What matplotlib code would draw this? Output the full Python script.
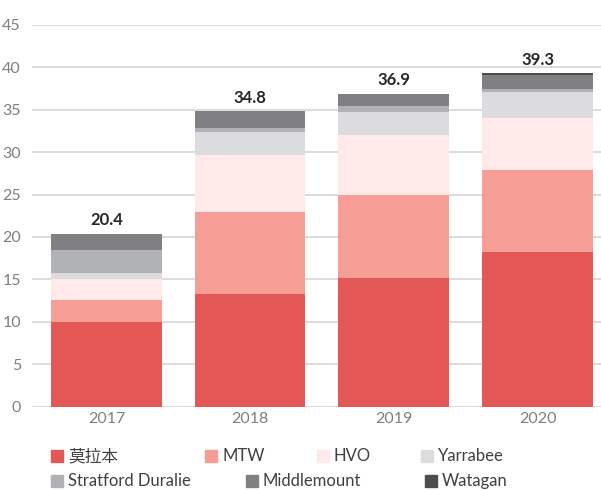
import numpy as np
import matplotlib
matplotlib.use('Agg')
import matplotlib.pyplot as plt
from matplotlib.patches import Rectangle

plt.rcParams['font.family'] = ['Lato', 'Noto Sans CJK SC', 'DejaVu Sans']

# данные
years = ['2017', '2018', '2019', '2020']
totals = [20.4, 34.8, 36.9, 39.3]
series_names = ['莫拉本', 'MTW', 'HVO', 'Yarrabee', 'Stratford Duralie', 'Middlemount', 'Watagan']
moolarben = [10.0, 13.3, 15.2, 18.2]
mtw = [2.6, 9.6, 9.8, 9.7]
hvo = [2.4, 6.8, 7.0, 6.1]
yarrabee = [0.7, 2.7, 2.7, 3.1]
stratford = [2.8, 0.4, 0.8, 0.35]
middlemount = [1.9, 2.0, 1.4, 1.65]
watagan = [0.0, 0.0, 0.0, 0.2]

colors = ['#E35757', '#F69E96', '#FFEAE9', '#DCDCDE', '#B1B2B6', '#808083', '#4D4D4F']
series = [moolarben, mtw, hvo, yarrabee, stratford, middlemount, watagan]

fig = plt.figure(figsize=(6.01, 4.90), dpi=100)
ax = fig.add_axes([32 / 601, (490 - 406.5) / 490, 1 - 32 / 601, (406.5 - 25) / 490])

x = np.arange(len(years))
bottom = np.zeros(len(years))
for vals, col in zip(series, colors):
    ax.bar(x, vals, width=0.77, bottom=bottom, color=col, zorder=2)
    bottom += np.array(vals)

for xi, t in zip(x, totals):
    ax.annotate(f'{t:.1f}', (xi, t), xytext=(0, 4), textcoords='offset points',
                ha='center', va='bottom', fontsize=12, fontweight='bold', color='#262626')

ax.set_xlim(-0.518, 3.442)
ax.set_ylim(0, 45)
ax.set_yticks(np.arange(0, 46, 5))
ax.yaxis.grid(True, color='#D9D9D9', linewidth=1.3, zorder=0)
ax.set_axisbelow(True)
for s in ax.spines.values():
    s.set_visible(False)
ax.tick_params(axis='both', length=0, labelsize=11.5, colors='#7F7F7F')
ax.tick_params(axis='y', pad=8)
ax.tick_params(axis='x', pad=4)
ax.set_xticks(x)
ax.set_xticklabels(years)

# легенда вручную, как в Excel
legend_pos = [(51, 456), (205, 456), (317, 456), (421, 456),
              (51, 481), (246, 481), (425, 481)]
for (px, py), name, col in zip(legend_pos, series_names, colors):
    fig.patches.append(Rectangle((px / 601, (490 - py - 6) / 490), 12 / 601, 12 / 490,
                                 transform=fig.transFigure, color=col, figure=fig))
    fig.text((px + 17) / 601, (490 - py) / 490, name, fontsize=12, color='#404040',
             ha='left', va='center')

fig.savefig('out.png', dpi=100)
